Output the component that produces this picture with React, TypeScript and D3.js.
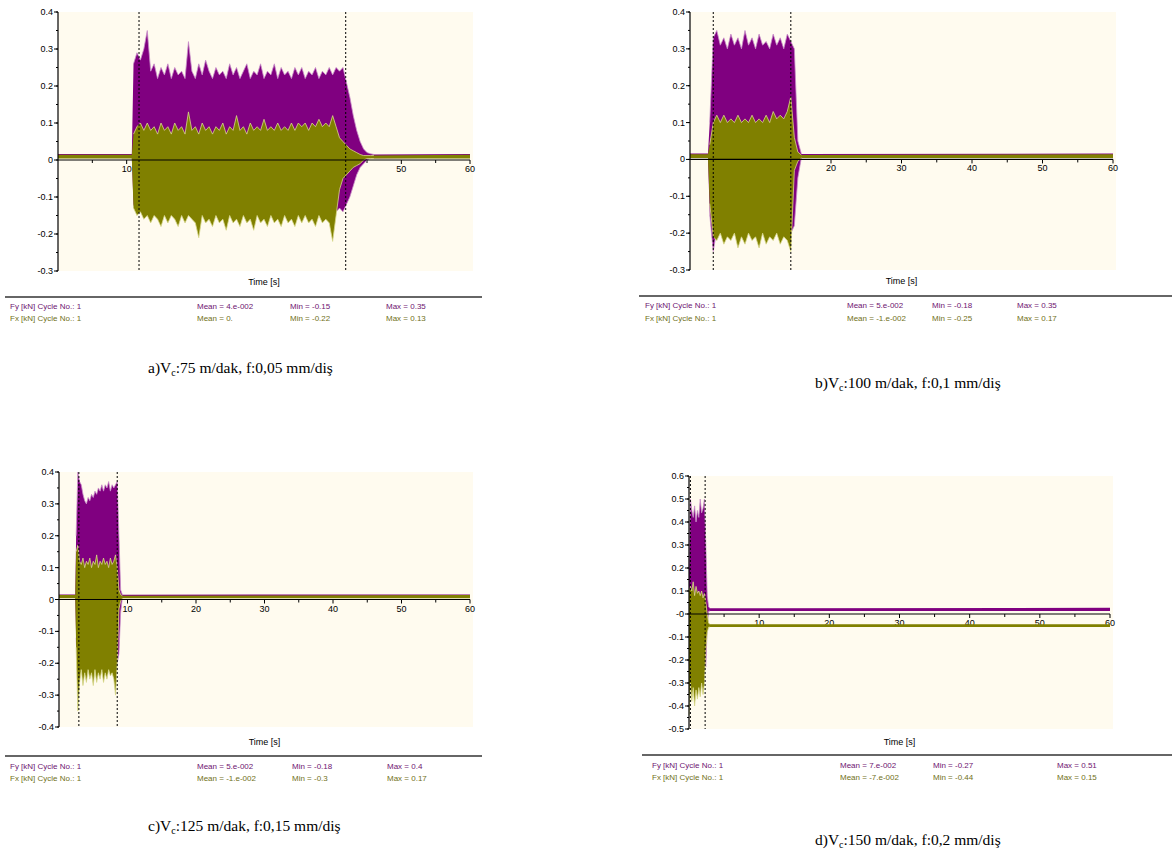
import React from 'react';
import * as d3 from 'd3';

// shared x axis (seconds)
const xTicks = [10, 20, 30, 40, 50, 60];
const xMinorTicks = [5, 15, 25, 35, 45, 55];

// panel a) Vc 75 m/dak, f 0,05
const aYTicks = [0.4, 0.3, 0.2, 0.1, 0, -0.1, -0.2, -0.3];
const aYLabels = ['0.4', '0.3', '0.2', '0.1', '0', '-0.1', '-0.2', '-0.3'];
const aStart = 11.0;
const aStep = 0.5;
const aFyHi = [
  0.26, 0.29, 0.27, 0.30, 0.35, 0.24, 0.26, 0.22, 0.25, 0.23,
  0.26, 0.22, 0.25, 0.23, 0.24, 0.22, 0.32, 0.24, 0.22, 0.26,
  0.23, 0.27, 0.24, 0.22, 0.25, 0.23, 0.24, 0.22, 0.26, 0.23,
  0.25, 0.22, 0.24, 0.26, 0.22, 0.24, 0.23, 0.26, 0.22, 0.24,
  0.23, 0.26, 0.22, 0.25, 0.23, 0.24, 0.22, 0.25, 0.23, 0.25,
  0.22, 0.24, 0.23, 0.25, 0.22, 0.24, 0.23, 0.25, 0.23, 0.25,
  0.24, 0.25, 0.21, 0.17, 0.12, 0.08, 0.05, 0.03, 0.02, 0.017,
  0.015,
];
const aFyLo = [
  -0.12, -0.14, -0.13, -0.14, -0.13, -0.14, -0.13, -0.14, -0.13, -0.14,
  -0.13, -0.14, -0.13, -0.14, -0.13, -0.14, -0.13, -0.14, -0.13, -0.14,
  -0.13, -0.14, -0.13, -0.14, -0.13, -0.14, -0.13, -0.14, -0.13, -0.14,
  -0.13, -0.14, -0.13, -0.14, -0.13, -0.14, -0.13, -0.14, -0.13, -0.14,
  -0.13, -0.14, -0.13, -0.14, -0.13, -0.14, -0.13, -0.14, -0.13, -0.14,
  -0.13, -0.14, -0.13, -0.14, -0.13, -0.14, -0.13, -0.14, -0.13, -0.14,
  -0.13, -0.14, -0.12, -0.10, -0.07, -0.04, -0.02, -0.01, 0.0, 0.005,
  0.005,
];
const aFxHi = [
  0.07, 0.09, 0.10, 0.08, 0.10, 0.08, 0.09, 0.07, 0.10, 0.08,
  0.09, 0.07, 0.10, 0.08, 0.09, 0.07, 0.13, 0.08, 0.09, 0.07,
  0.10, 0.08, 0.09, 0.07, 0.09, 0.08, 0.10, 0.07, 0.09, 0.08,
  0.12, 0.08, 0.09, 0.07, 0.10, 0.08, 0.09, 0.08, 0.11, 0.08,
  0.09, 0.08, 0.10, 0.08, 0.09, 0.08, 0.10, 0.08, 0.10, 0.09,
  0.10, 0.08, 0.10, 0.09, 0.11, 0.09, 0.10, 0.09, 0.12, 0.09,
  0.06, 0.05, 0.04, 0.03, 0.025, 0.02, 0.015, 0.012, 0.012, 0.012,
  0.012,
];
const aFxLo = [
  -0.13, -0.15, -0.14, -0.16, -0.15, -0.17, -0.15, -0.16, -0.18, -0.15,
  -0.17, -0.15, -0.16, -0.18, -0.15, -0.17, -0.15, -0.16, -0.17, -0.21,
  -0.15, -0.17, -0.16, -0.18, -0.15, -0.17, -0.16, -0.19, -0.15, -0.17,
  -0.16, -0.18, -0.15, -0.17, -0.16, -0.19, -0.15, -0.17, -0.16, -0.18,
  -0.15, -0.17, -0.16, -0.18, -0.15, -0.17, -0.16, -0.18, -0.15, -0.17,
  -0.15, -0.17, -0.16, -0.18, -0.15, -0.17, -0.16, -0.17, -0.22, -0.15,
  -0.08, -0.05, -0.04, -0.03, -0.02, -0.015, -0.01, 0.0, 0.004, 0.004,
  0.004,
];
const aFyBase = [0.006, 0.016];
const aFxBase = [0.004, 0.014];
const aMarkers = [11.8, 41.9];
const aFyStats = ['Mean = 4.e-002', 'Min = -0.15', 'Max = 0.35'];
const aFxStats = ['Mean = 0.', 'Min = -0.22', 'Max = 0.13'];

// panel b) Vc 100 m/dak, f 0,1
const bYTicks = [0.4, 0.3, 0.2, 0.1, 0, -0.1, -0.2, -0.3];
const bYLabels = ['0.4', '0.3', '0.2', '0.1', '0', '-0.1', '-0.2', '-0.3'];
const bStart = 2.8;
const bStep = 0.5;
const bFyHi = [
  0.10, 0.33, 0.35, 0.31, 0.33, 0.30, 0.34, 0.31, 0.33, 0.30,
  0.35, 0.31, 0.33, 0.30, 0.34, 0.31, 0.32, 0.30, 0.34, 0.31,
  0.33, 0.30, 0.34, 0.32, 0.30, 0.05, 0.015,
];
const bFyLo = [
  -0.15, -0.25, -0.19, -0.20, -0.19, -0.20, -0.19, -0.20, -0.19, -0.20,
  -0.19, -0.20, -0.19, -0.20, -0.19, -0.20, -0.19, -0.20, -0.19, -0.20,
  -0.19, -0.20, -0.19, -0.20, -0.18, -0.05, 0.005,
];
const bFxHi = [
  0.04, 0.10, 0.12, 0.10, 0.12, 0.10, 0.11, 0.10, 0.12, 0.10,
  0.11, 0.10, 0.12, 0.10, 0.11, 0.10, 0.12, 0.10, 0.13, 0.11,
  0.12, 0.11, 0.13, 0.17, 0.06, 0.02, 0.012,
];
const bFxLo = [
  -0.12, -0.21, -0.22, -0.20, -0.23, -0.21, -0.22, -0.20, -0.24, -0.21,
  -0.23, -0.20, -0.22, -0.21, -0.24, -0.20, -0.23, -0.21, -0.22, -0.20,
  -0.23, -0.21, -0.22, -0.25, -0.03, -0.005, 0.004,
];
const bFyBase = [0.006, 0.016];
const bFxBase = [0.004, 0.014];
const bMarkers = [3.3, 14.3];
const bFyStats = ['Mean = 5.e-002', 'Min = -0.18', 'Max = 0.35'];
const bFxStats = ['Mean = -1.e-002', 'Min = -0.25', 'Max = 0.17'];

// panel c) Vc 125 m/dak, f 0,15
const cYTicks = [0.4, 0.3, 0.2, 0.1, 0, -0.1, -0.2, -0.3, -0.4];
const cYLabels = ['0.4', '0.3', '0.2', '0.1', '0', '-0.1', '-0.2', '-0.3', '-0.4'];
const cStart = 2.5;
const cStep = 0.25;
const cFyHi = [
  0.20, 0.40, 0.37, 0.36, 0.33, 0.31, 0.30, 0.32, 0.31, 0.33,
  0.32, 0.34, 0.33, 0.35, 0.34, 0.36, 0.34, 0.36, 0.35, 0.37,
  0.34, 0.36, 0.35, 0.36, 0.37, 0.20, 0.03, 0.015,
];
const cFyLo = [
  -0.12, -0.25, -0.21, -0.20, -0.21, -0.20, -0.21, -0.20, -0.21, -0.20,
  -0.21, -0.20, -0.21, -0.20, -0.21, -0.20, -0.21, -0.20, -0.21, -0.20,
  -0.21, -0.20, -0.21, -0.20, -0.20, -0.17, -0.04, 0.005,
];
const cFxHi = [
  0.15, 0.17, 0.12, 0.11, 0.13, 0.10, 0.12, 0.11, 0.13, 0.10,
  0.12, 0.11, 0.14, 0.10, 0.12, 0.11, 0.13, 0.11, 0.12, 0.10,
  0.13, 0.11, 0.12, 0.14, 0.10, 0.03, 0.015, 0.012,
];
const cFxLo = [
  -0.15, -0.35, -0.26, -0.22, -0.27, -0.23, -0.26, -0.22, -0.25, -0.23,
  -0.27, -0.22, -0.26, -0.23, -0.25, -0.22, -0.26, -0.23, -0.25, -0.22,
  -0.24, -0.23, -0.25, -0.30, -0.20, -0.03, -0.005, 0.004,
];
const cFyBase = [0.006, 0.016];
const cFxBase = [0.004, 0.014];
const cMarkers = [2.9, 8.5];
const cFyStats = ['Mean = 5.e-002', 'Min = -0.18', 'Max = 0.4'];
const cFxStats = ['Mean = -1.e-002', 'Min = -0.3', 'Max = 0.17'];

// panel d) Vc 150 m/dak, f 0,2
const dYTicks = [0.6, 0.5, 0.4, 0.3, 0.2, 0.1, 0, -0.1, -0.2, -0.3, -0.4, -0.5];
const dYLabels = ['0.6', '0.5', '0.4', '0.3', '0.2', '0.1', '-0', '-0.1', '-0.2', '-0.3', '-0.4', '-0.5'];
const dStart = 0;
const dStep = 0.2;
const dFyHi = [0.20, 0.50, 0.45, 0.42, 0.47, 0.40, 0.45, 0.42, 0.50, 0.44, 0.46, 0.50, 0.30, 0.08, 0.03, 0.025];
const dFyLo = [-0.20, -0.30, -0.28, -0.30, -0.28, -0.30, -0.28, -0.30, -0.28, -0.30, -0.25, -0.20, -0.23, -0.05, 0.012, 0.013];
const dFxHi = [0.10, 0.12, 0.10, 0.14, 0.08, 0.12, 0.09, 0.10, 0.08, 0.10, 0.07, 0.09, 0.05, 0.0, -0.04, -0.045];
const dFxLo = [-0.44, -0.30, -0.38, -0.32, -0.40, -0.33, -0.37, -0.32, -0.36, -0.30, -0.35, -0.30, -0.15, -0.08, -0.057, -0.057];
const dFyBase = [0.013, 0.027];
const dFxBase = [-0.057, -0.045];
const dMarkers = [0.2, 2.3];
const dFyStats = ['Mean = 7.e-002', 'Min = -0.27', 'Max = 0.51'];
const dFxStats = ['Mean = -7.e-002', 'Min = -0.44', 'Max = 0.15'];

const FY_FILL = '#800080';
const FY_EDGE = '#c98fc9';
const FX_FILL = '#808000';
const FX_EDGE = '#d8d88c';
const PLOT_BG = '#fffbef';
const FY_TEXT = '#6e1470';
const FX_TEXT = '#707018';

type Pt = { t: number; hi: number; lo: number };

// put the active (cutting) samples between flat baseline stretches
function buildBand(start: number, step: number, hi: number[], lo: number[], base: number[]) {
  const active: Pt[] = hi.map((v, i) => ({ t: start + i * step, hi: v, lo: lo[i] }));
  const pts: Pt[] = [];
  if (start > 0) {
    pts.push({ t: 0, hi: base[1], lo: base[0] });
    pts.push({ t: start - step / 2, hi: base[1], lo: base[0] });
  }
  pts.push(...active);
  pts.push({ t: 60, hi: base[1], lo: base[0] });
  return { all: pts, active };
}

const panels = [
  {
    id: 'a', left: 58, right: 470, top: 12, bottom: 271, yDomain: [-0.3, 0.4],
    yTicks: aYTicks, yLabels: aYLabels, start: aStart, step: aStep,
    fyHi: aFyHi, fyLo: aFyLo, fxHi: aFxHi, fxLo: aFxLo, fyBase: aFyBase, fxBase: aFxBase,
    markers: aMarkers, fyStats: aFyStats, fxStats: aFxStats,
    timeY: 285, sepY: 297, sepX: [5, 482], legX: [10, 197, 290, 386], legY: [309, 321],
    caption: ['a)V', 'c', ':75 m/dak, f:0,05 mm/diş'], capX: 148, capY: 373,
  },
  {
    id: 'b', left: 690, right: 1113, top: 12, bottom: 270, yDomain: [-0.3, 0.4],
    yTicks: bYTicks, yLabels: bYLabels, start: bStart, step: bStep,
    fyHi: bFyHi, fyLo: bFyLo, fxHi: bFxHi, fxLo: bFxLo, fyBase: bFyBase, fxBase: bFxBase,
    markers: bMarkers, fyStats: bFyStats, fxStats: bFxStats,
    timeY: 284, sepY: 296, sepX: [639, 1172], legX: [645, 847, 932, 1017], legY: [308, 321],
    caption: ['b)V', 'c', ':100 m/dak, f:0,1 mm/diş'], capX: 815, capY: 388,
  },
  {
    id: 'c', left: 59, right: 470, top: 472, bottom: 727, yDomain: [-0.4, 0.4],
    yTicks: cYTicks, yLabels: cYLabels, start: cStart, step: cStep,
    fyHi: cFyHi, fyLo: cFyLo, fxHi: cFxHi, fxLo: cFxLo, fyBase: cFyBase, fxBase: cFxBase,
    markers: cMarkers, fyStats: cFyStats, fxStats: cFxStats,
    timeY: 745, sepY: 756, sepX: [5, 482], legX: [10, 197, 292, 387], legY: [769, 781],
    caption: ['c)V', 'c', ':125 m/dak, f:0,15 mm/diş'], capX: 148, capY: 831,
  },
  {
    id: 'd', left: 689, right: 1110, top: 476, bottom: 729, yDomain: [-0.5, 0.6],
    yTicks: dYTicks, yLabels: dYLabels, start: dStart, step: dStep,
    fyHi: dFyHi, fyLo: dFyLo, fxHi: dFxHi, fxLo: dFxLo, fyBase: dFyBase, fxBase: dFxBase,
    markers: dMarkers, fyStats: dFyStats, fxStats: dFxStats,
    timeY: 745, sepY: 755, sepX: [642, 1172], legX: [652, 840, 933, 1057], legY: [768, 780],
    caption: ['d)V', 'c', ':150 m/dak, f:0,2 mm/diş'], capX: 815, capY: 845,
  },
];

const Panel = ({ p }: { p: any }) => {
  const x = d3.scaleLinear().domain([0, 60]).range([p.left, p.right]);
  const y = d3.scaleLinear().domain(p.yDomain).range([p.bottom, p.top]);
  const fy = buildBand(p.start, p.step, p.fyHi, p.fyLo, p.fyBase);
  const fx = buildBand(p.start, p.step, p.fxHi, p.fxLo, p.fxBase);

  const area = d3.area<Pt>().x((d) => x(d.t)).y0((d) => y(d.lo)).y1((d) => y(d.hi));
  const hiLine = d3.line<Pt>().x((d) => x(d.t)).y((d) => y(d.hi));
  const loLine = d3.line<Pt>().x((d) => x(d.t)).y((d) => y(d.lo));

  const y0 = y(0);
  const minorY = d3.range(Math.round(p.yDomain[0] * 20), Math.round(p.yDomain[1] * 20) + 1).map((k) => k / 20);
  const font = 'Liberation Sans, Arial, sans-serif';

  return (
    <g>
      <rect x={p.left} y={p.top} width={p.right - p.left + 3} height={p.bottom - p.top} fill={PLOT_BG} />

      {/* x axis ticks and labels sit under the signal */}
      {xMinorTicks.map((t) => (
        <line key={'xm' + t} x1={x(t)} x2={x(t)} y1={y0} y2={y0 + 3} stroke="#000" strokeWidth={1} />
      ))}
      {xTicks.map((t) => (
        <g key={'xt' + t}>
          <line x1={x(t)} x2={x(t)} y1={y0} y2={y0 + 4} stroke="#000" strokeWidth={1} />
          <text x={x(t)} y={y0 + 12} fontSize={9} fontFamily={font} textAnchor="middle" fill="#000">
            {t}
          </text>
        </g>
      ))}

      <path d={area(fy.all) || ''} fill={FY_FILL} />
      <path d={hiLine(fy.active) || ''} fill="none" stroke={FY_EDGE} strokeWidth={0.8} />
      <path d={loLine(fy.active) || ''} fill="none" stroke={FY_EDGE} strokeWidth={0.8} />
      <path d={area(fx.all) || ''} fill={FX_FILL} />
      <path d={hiLine(fx.active) || ''} fill="none" stroke={FX_EDGE} strokeWidth={0.8} />
      <path d={loLine(fx.active) || ''} fill="none" stroke={FX_EDGE} strokeWidth={0.8} />

      <line x1={p.left} x2={p.right} y1={y0} y2={y0} stroke="#000" strokeWidth={1.2} />

      {/* y axis */}
      <line x1={p.left} x2={p.left} y1={p.top} y2={p.bottom} stroke="#000" strokeWidth={1.2} />
      {minorY.map((v) => (
        <line key={'ym' + v} x1={p.left - 2} x2={p.left} y1={y(v)} y2={y(v)} stroke="#000" strokeWidth={1} />
      ))}
      {p.yTicks.map((v: number, i: number) => (
        <g key={'yt' + i}>
          <line x1={p.left - 4} x2={p.left} y1={y(v)} y2={y(v)} stroke="#000" strokeWidth={1} />
          <text x={p.left - 5} y={y(v) + 3} fontSize={9} fontFamily={font} textAnchor="end" fill="#000">
            {p.yLabels[i]}
          </text>
        </g>
      ))}

      {p.markers.map((t: number) => (
        <line key={'mk' + t} x1={x(t)} x2={x(t)} y1={p.top} y2={p.bottom} stroke="#000" strokeWidth={1} strokeDasharray="2,2" />
      ))}

      <text x={(p.left + p.right) / 2} y={p.timeY} fontSize={9} fontFamily={font} textAnchor="middle" fill="#000">
        Time [s]
      </text>

      <line x1={p.sepX[0]} x2={p.sepX[1]} y1={p.sepY} y2={p.sepY} stroke="#333" strokeWidth={1.5} />

      <g fontSize={8} fontFamily={font}>
        <text x={p.legX[0]} y={p.legY[0]} fill={FY_TEXT}>Fy [kN] Cycle No.: 1</text>
        {p.fyStats.map((s: string, i: number) => (
          <text key={'fs' + i} x={p.legX[i + 1]} y={p.legY[0]} fill={FY_TEXT}>{s}</text>
        ))}
        <text x={p.legX[0]} y={p.legY[1]} fill={FX_TEXT}>Fx [kN] Cycle No.: 1</text>
        {p.fxStats.map((s: string, i: number) => (
          <text key={'xs' + i} x={p.legX[i + 1]} y={p.legY[1]} fill={FX_TEXT}>{s}</text>
        ))}
      </g>

      <text x={p.capX} y={p.capY} fontSize={15.5} fontFamily="Liberation Serif, Times New Roman, serif" fill="#000">
        <tspan>{p.caption[0]}</tspan>
        <tspan dy={3} fontSize={10}>{p.caption[1]}</tspan>
        <tspan dy={-3}>{p.caption[2]}</tspan>
      </text>
    </g>
  );
};

export default function App() {
  return (
    <svg width={1172} height={857} style={{ position: 'absolute', left: 0, top: 0, background: '#fff' }}>
      {panels.map((p) => (
        <Panel key={p.id} p={p} />
      ))}
    </svg>
  );
}
